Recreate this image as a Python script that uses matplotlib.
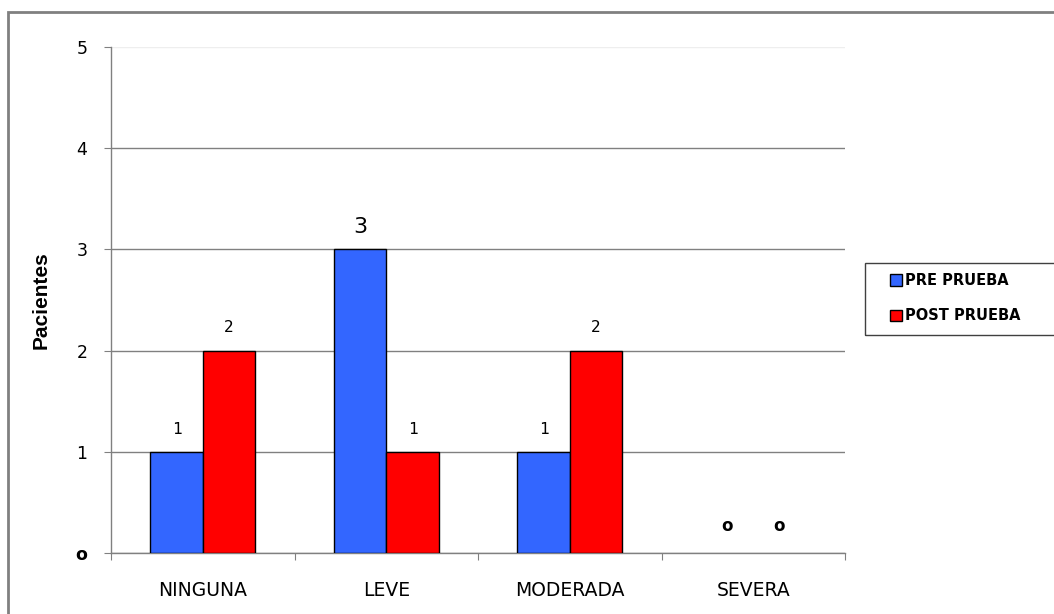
import numpy as np
import matplotlib
matplotlib.use("Agg")
import matplotlib.pyplot as plt
from matplotlib.patches import Patch, Rectangle

categorias = ["NINGUNA", "LEVE", "MODERADA", "SEVERA"]
pre_prueba = [1, 3, 1, 0]
post_prueba = [2, 1, 2, 0]
series = ["PRE PRUEBA", "POST PRUEBA"]
colores = ["#3366FF", "#FF0000"]

fig = plt.figure(figsize=(10.54, 6.14), dpi=100)
ax = fig.add_axes([111/1054, 61/614, 734/1054, 506/614])

x = np.arange(len(categorias))
w = 0.285
b1 = ax.bar(x - w/2, pre_prueba, w, color=colores[0], edgecolor="black",
            linewidth=[1 if v else 0 for v in pre_prueba], zorder=3)
b2 = ax.bar(x + w/2, post_prueba, w, color=colores[1], edgecolor="black",
            linewidth=[1 if v else 0 for v in post_prueba], zorder=3)

# etiquetas de valor sobre cada barra
for bars, vals in [(b1, pre_prueba), (b2, post_prueba)]:
    for r, v in zip(bars, vals):
        cx = r.get_x() + r.get_width()/2
        if v == 3:
            ax.text(cx, v + 0.12, str(v), ha="center", va="bottom",
                    fontsize=16, family="DejaVu Sans")
        elif v == 0:
            ax.text(cx, v + 0.18, "o", ha="center", va="bottom",
                    fontsize=12, fontweight="bold", family="DejaVu Sans")
        else:
            ax.text(cx, v + 0.15, str(v), ha="center", va="bottom",
                    fontsize=11.5, family="DejaVu Sans Mono")

ax.set_xlim(-0.5, 3.5)
ax.set_ylim(0, 5)
ax.set_yticks(range(6))
ax.set_yticklabels(["o", "1", "2", "3", "4", "5"], fontsize=12.5, family="DejaVu Sans")
ax.get_yticklabels()[0].set_fontweight("bold")
ax.set_xticks(np.arange(-0.5, 4, 1))
ax.set_xticklabels([])
ax.set_xticks(x, minor=True)
ax.set_xticklabels(categorias, minor=True, fontsize=13.5, family="DejaVu Sans")
ax.tick_params(axis="x", which="minor", length=0, pad=20)
ax.tick_params(axis="x", which="major", length=5, color="#808080", direction="out")
ax.tick_params(axis="y", length=5, color="#808080", direction="out", pad=12)

ax.yaxis.grid(True, color="#808080", linewidth=1, zorder=0)
ax.get_ygridlines()[5].set_color("#eeeeee")
for s in ["top", "right"]:
    ax.spines[s].set_visible(False)
for s in ["left", "bottom"]:
    ax.spines[s].set_color("#808080")
    ax.spines[s].set_linewidth(1)

ax.set_ylabel("Pacientes", fontsize=15, fontweight="bold", family="Liberation Sans", labelpad=18)

# recuadro exterior del grafico
fig.patches.append(Rectangle((8/1054, -0.1), 1.2, (614-12)/614 + 0.1, transform=fig.transFigure,
                             fill=False, edgecolor="#808080", linewidth=2))

# leyenda
fig.patches.append(Rectangle((865/1054, 1 - 335/614), 0.3, 72/614, transform=fig.transFigure,
                             fill=False, edgecolor="#404040", linewidth=1))
handles = [Patch(facecolor=c, edgecolor="black", linewidth=1) for c in colores]
fig.legend(handles, series, loc="upper left", bbox_to_anchor=(890/1054, 1 - 273/614),
           frameon=False, prop={"weight": "bold", "size": 10.5},
           handlelength=0.8, handleheight=0.8, handletextpad=0.2, labelspacing=1.4,
           borderpad=0, borderaxespad=0)

fig.savefig("out.png", dpi=100, facecolor="white")
